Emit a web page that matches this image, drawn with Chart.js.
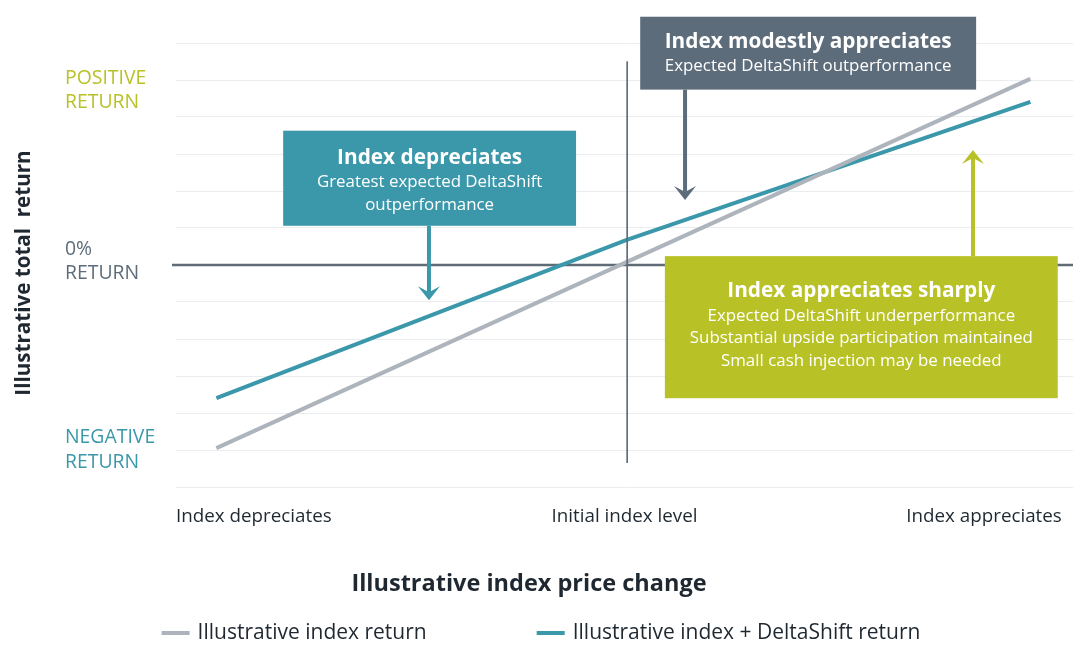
<!DOCTYPE html>
<html>
<head>
<meta charset="utf-8">
<script src="https://cdn.jsdelivr.net/npm/chart.js@4.4.1/dist/chart.umd.min.js"></script>
<style>
html,body{margin:0;padding:0;background:#ffffff;}
#wrap{width:1082px;height:665px;position:relative;}
</style>
</head>
<body>
<div id="wrap"><canvas id="c" width="1082" height="665"></canvas></div>
<script>
// ---------------- data ----------------
const seriesNames = ['Illustrative index return', 'Illustrative index + DeltaShift return'];
const indexX = [-9.1, 9.05];
const indexY = [-4.95, 5.03];
const deltaX = [-9.1, 0.05, 9.05];
const deltaY = [-3.6, 0.68, 4.41];
const initialLevelX = [0.06, 0.06];
const initialLevelY = [5.5, -5.35];
const xTickValues = [-10, 0, 9.75];
const xTickLabels = ['Index depreciates', 'Initial index level', 'Index appreciates'];
const yCategoryLabels = [['POSITIVE', 'RETURN'], ['0%', 'RETURN'], ['NEGATIVE', 'RETURN']];
const yCategoryValues = [5.05, 0.43, -4.67];
const boxTitles = ['Index depreciates', 'Index modestly appreciates', 'Index appreciates sharply'];
const boxLines = [
  ['Greatest expected DeltaShift', 'outperformance'],
  ['Expected DeltaShift outperformance'],
  ['Expected DeltaShift underperformance', 'Substantial upside participation maintained', 'Small cash injection may be needed']
];
// box extents in data units [x1, x2, yTop, yBottom]; arrow [x, tipY]
const boxExtents = [[-7.61, -1.08, 3.63, 1.06], [0.35, 7.84, 6.71, 4.74], [0.90, 9.66, 0.24, -3.60]];
const arrowTargets = [[-4.36, -0.95], [1.35, 1.76], [7.77, 3.11]];
const xAxisTitle = 'Illustrative index price change';
const yAxisTitle = 'Illustrative total  return';

// ---------------- styles ----------------
const FONT = '"Open Sans", "Noto Sans", "DejaVu Sans", sans-serif';
const C_GRAY_LINE = '#adb4bc';
const C_TEAL = '#3b97aa';
const C_SLATE = '#5d6c7b';
const C_GREEN = '#b8c227';
const C_TEXT = '#1f2830';
const boxColors = [C_TEAL, C_SLATE, C_GREEN];
const yCategoryColors = [C_GREEN, C_SLATE, C_TEAL];
const boxStyle = [
  {titleOff: 27, lineOff: 51, lh: 23},
  {titleOff: 25, lineOff: 49, lh: 23},
  {titleOff: 35, lineOff: 60, lh: 22.5}
];

function pts(xs, ys) { return xs.map((x, i) => ({x: x, y: ys[i]})); }

function drawArrowHead(ctx, x, tipY, dir, color) {
  // dir = 1 pointing down, -1 pointing up
  const hw = 11, len = 14, notch = 6;
  ctx.fillStyle = color;
  ctx.beginPath();
  ctx.moveTo(x, tipY);
  ctx.lineTo(x - hw, tipY - dir * len);
  ctx.lineTo(x, tipY - dir * (len - notch));
  ctx.lineTo(x + hw, tipY - dir * len);
  ctx.closePath();
  ctx.fill();
}

const overlay = {
  id: 'overlay',
  beforeDatasetsDraw(chart) {
    const {ctx, chartArea, scales} = chart;
    const yz = scales.y.getPixelForValue(0);
    ctx.save();
    ctx.strokeStyle = '#5f6b77';
    ctx.lineWidth = 2.5;
    ctx.beginPath();
    ctx.moveTo(chartArea.left - 4, yz);
    ctx.lineTo(chartArea.right, yz);
    ctx.stroke();
    ctx.restore();
  },
  afterDatasetsDraw(chart) {
    const {ctx, scales} = chart;
    const xs = scales.x, ys = scales.y;
    ctx.save();
    boxExtents.forEach((b, i) => {
      const x1 = xs.getPixelForValue(b[0]), x2 = xs.getPixelForValue(b[1]);
      const y1 = ys.getPixelForValue(b[2]), y2 = ys.getPixelForValue(b[3]);
      const color = boxColors[i];
      // arrow
      const ax = xs.getPixelForValue(arrowTargets[i][0]);
      const ay = ys.getPixelForValue(arrowTargets[i][1]);
      const dir = ay > y2 ? 1 : -1;
      const startY = dir === 1 ? y2 : y1;
      ctx.strokeStyle = color;
      ctx.lineWidth = 4;
      ctx.beginPath();
      ctx.moveTo(ax, startY);
      ctx.lineTo(ax, ay - dir * 8);
      ctx.stroke();
      drawArrowHead(ctx, ax, ay, dir, color);
      // box
      ctx.fillStyle = color;
      ctx.fillRect(x1, y1, x2 - x1, y2 - y1);
      // text
      const cx = (x1 + x2) / 2;
      const st = boxStyle[i];
      ctx.fillStyle = '#ffffff';
      ctx.textAlign = 'center';
      ctx.textBaseline = 'middle';
      ctx.font = 'bold 20.8px ' + FONT;
      ctx.fillText(boxTitles[i], cx, y1 + st.titleOff);
      ctx.font = '16.9px ' + FONT;
      boxLines[i].forEach((t, k) => ctx.fillText(t, cx, y1 + st.lineOff + k * st.lh));
    });
    ctx.restore();
  },
  afterDraw(chart) {
    const {ctx, scales, data} = chart;
    const ys = scales.y;
    ctx.save();
    // y category labels
    ctx.textAlign = 'left';
    ctx.textBaseline = 'middle';
    ctx.font = '19.4px ' + FONT;
    yCategoryLabels.forEach((lines, i) => {
      ctx.fillStyle = yCategoryColors[i];
      const y0 = ys.getPixelForValue(yCategoryValues[i]);
      lines.forEach((t, k) => ctx.fillText(t, 65, y0 + k * 24.5));
    });
    // y axis title
    ctx.save();
    ctx.translate(24, 273);
    ctx.rotate(-Math.PI / 2);
    ctx.fillStyle = C_TEXT;
    ctx.font = 'bold 20.6px ' + FONT;
    ctx.textAlign = 'center';
    ctx.fillText(yAxisTitle, 0, 0);
    ctx.restore();
    // x axis title
    ctx.fillStyle = C_TEXT;
    ctx.font = 'bold 23.5px ' + FONT;
    ctx.textAlign = 'center';
    ctx.fillText(xAxisTitle, 529, 584);
    // legend
    const items = data.datasets.filter(d => d.inLegend);
    ctx.font = '21px ' + FONT;
    const sw = 28, gap = 8, spacing = 110;
    const widths = items.map(d => sw + gap + ctx.measureText(d.label).width);
    const total = widths.reduce((a, b) => a + b, 0) + spacing * (items.length - 1);
    let lx = 541 - total / 2;
    const ly = 633;
    items.forEach((d, i) => {
      ctx.fillStyle = d.borderColor;
      ctx.fillRect(lx, ly - 2, sw, 4);
      ctx.fillStyle = C_TEXT;
      ctx.textAlign = 'left';
      ctx.fillText(d.label, lx + sw + gap, ly);
      lx += widths[i] + spacing;
    });
    ctx.restore();
  }
};

new Chart(document.getElementById('c'), {
  type: 'line',
  data: {
    datasets: [
      {label: 'Initial index level', data: pts(initialLevelX, initialLevelY), borderColor: '#5f6b77', borderWidth: 1, pointRadius: 0, inLegend: false},
      {label: seriesNames[0], data: pts(indexX, indexY), borderColor: C_GRAY_LINE, borderWidth: 4, pointRadius: 0, inLegend: true},
      {label: seriesNames[1], data: pts(deltaX, deltaY), borderColor: C_TEAL, borderWidth: 4, pointRadius: 0, inLegend: true}
    ]
  },
  options: {
    responsive: false,
    animation: false,
    devicePixelRatio: 1,
    layout: {padding: {left: 176, right: 9, top: 43, bottom: 0}},
    plugins: {legend: {display: false}, tooltip: {enabled: false}},
    scales: {
      x: {
        type: 'linear', min: -10, max: 10,
        grid: {display: false, drawTicks: false},
        border: {display: false},
        afterBuildTicks: (scale) => { scale.ticks = xTickValues.map(v => ({value: v})); },
        afterFit: (scale) => { scale.height = 178; },
        ticks: {
          align: 'inner', padding: 18, color: C_TEXT, maxRotation: 0, autoSkip: false,
          font: {family: FONT, size: 18.8},
          callback: (v, i) => xTickLabels[i]
        }
      },
      y: {
        type: 'linear', min: -6, max: 6,
        grid: {color: (c) => c.tick && c.tick.value === 0 ? 'rgba(0,0,0,0)' : '#e9edf0', lineWidth: 1, drawTicks: false},
        border: {display: false},
        ticks: {display: false, stepSize: 1}
      }
    }
  },
  plugins: [overlay]
});
</script>
</body>
</html>
